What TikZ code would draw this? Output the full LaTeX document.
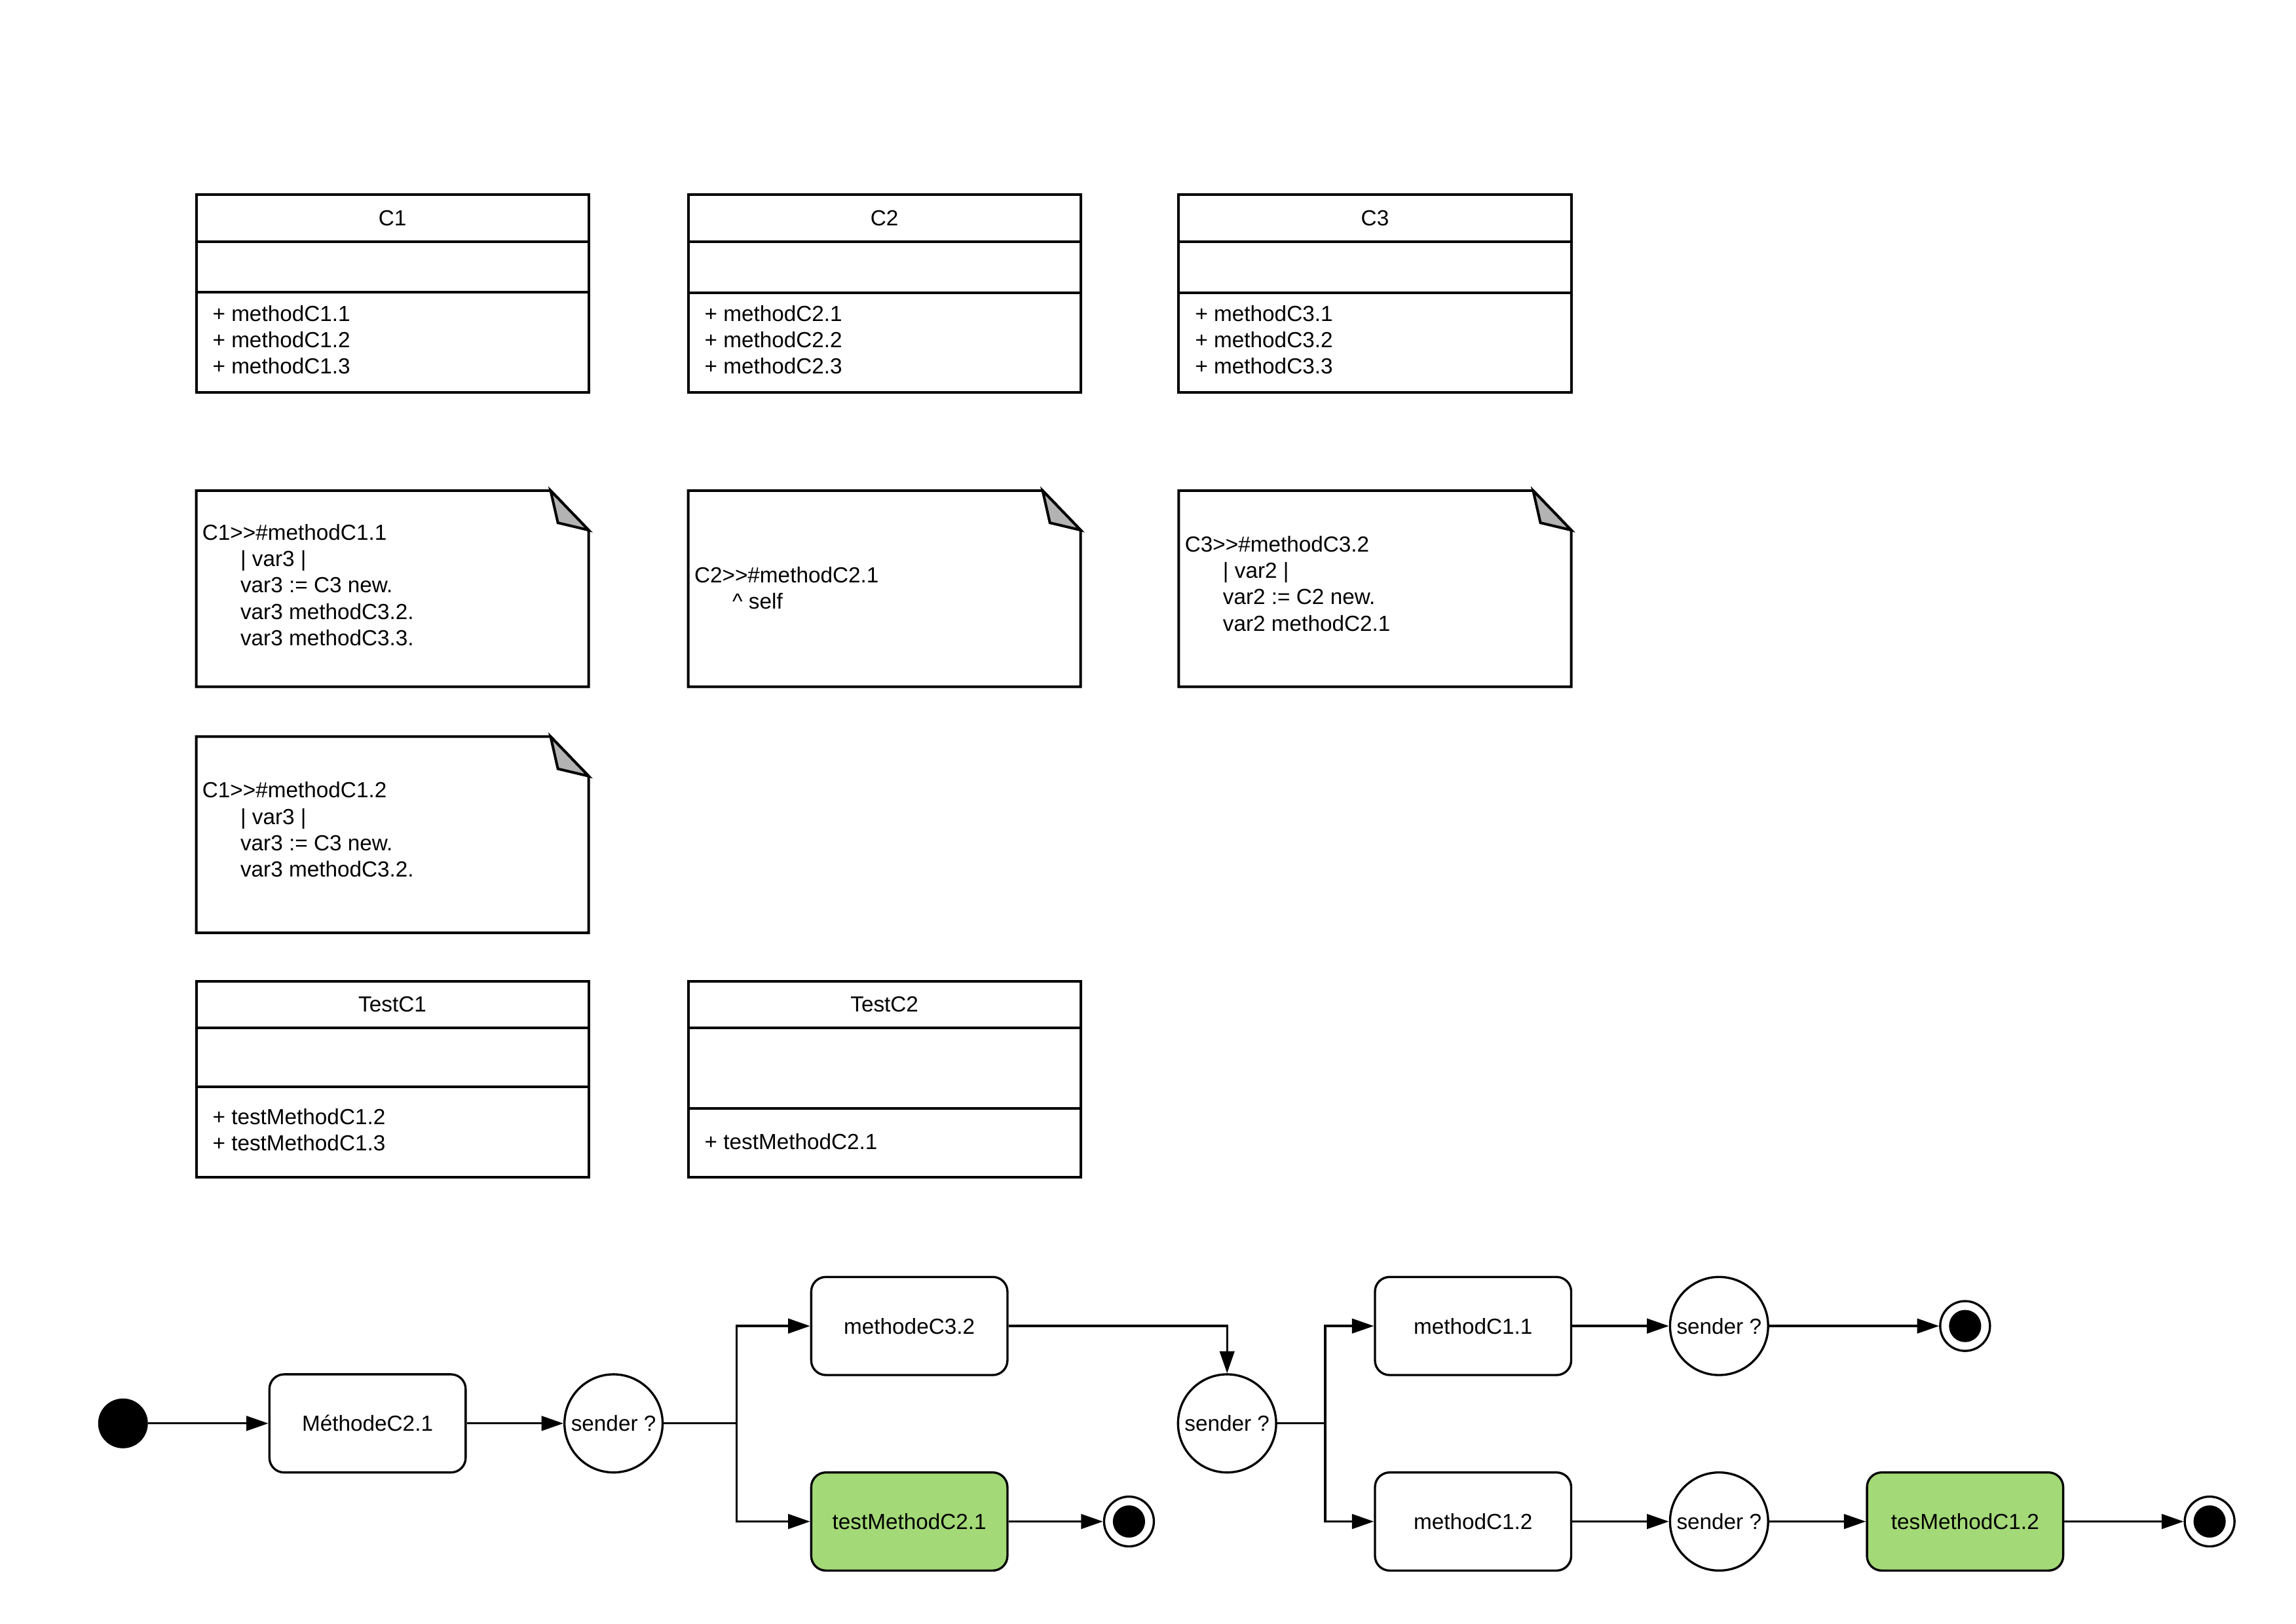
\documentclass[tikz,border=0pt]{standalone}
\usepackage{fontspec}
\setmainfont{Liberation Sans}
\usetikzlibrary{arrows.meta}
\definecolor{greenfill}{RGB}{163,217,119}
\definecolor{foldgray}{RGB}{179,179,179}
\tikzset{
  lbl/.style={inner sep=0pt, font=\fontsize{14.9pt}{18pt}\selectfont, align=left},
  boxline/.style={line width=1.8pt, line join=miter},
  statebox/.style={draw, line width=1.5pt, rounded corners=10pt, minimum width=134pt, minimum height=67pt, inner sep=0pt, fill=white, font=\fontsize{14.9pt}{18pt}\selectfont},
  decision/.style={draw, circle, line width=1.5pt, minimum size=67pt, inner sep=0pt, fill=white, font=\fontsize{14.9pt}{18pt}\selectfont},
  initstate/.style={circle, fill=black, minimum size=34pt, inner sep=0pt},
  finalstate/.style={circle, draw, line width=1.5pt, minimum size=34pt, inner sep=0pt, fill=white,
    path picture={\fill[black] (path picture bounding box.center) circle[radius=11pt];}},
  flow/.style={line width=1.5pt, -{Triangle[length=15pt,width=10pt]}},
  link/.style={line width=1.5pt},
}
\newcommand\umlclass[9]{%
  \draw[boxline] (#2,#3) rectangle (#2+268,#6);
  \draw[boxline] (#2,#4) -- (#2+268,#4);
  \draw[boxline] (#2,#5) -- (#2+268,#5);
  \node[lbl] (#1-title) at (#2+134,{(#3+#4)/2}) {#7};
  \node[lbl, anchor=west] (#1-ops) at (#2+11,#9) {#8};
}
\newcommand\umlnote[5]{%
  \draw[boxline] (#2,#3) -- (#2+242,#3) -- (#2+268,#3+27) -- (#2+268,#3+134) -- (#2,#3+134) -- cycle;
  \filldraw[boxline, fill=foldgray] (#2+242,#3) -- (#2+247,#3+22) -- (#2+268,#3+27) -- cycle;
  \node[lbl, anchor=west] (#1) at (#2+4,#5) {#4};
}
\newcommand\ind{\hspace*{26pt}}
\newcommand\gtgt{>{}>}
\begin{document}
\begin{tikzpicture}[x=1pt,y=-1pt]
\useasboundingbox (0,0) rectangle (1568,1109);
\fill[white] (0,0) rectangle (1568,1109);

% classes
\umlclass{C1}{134}{133}{165}{199.5}{268}{C1}{+ methodC1.1\\+ methodC1.2\\+ methodC1.3}{232}
\umlclass{C2}{470}{133}{165}{200}{268}{C2}{+ methodC2.1\\+ methodC2.2\\+ methodC2.3}{232}
\umlclass{C3}{805}{133}{165}{200}{268}{C3}{+ methodC3.1\\+ methodC3.2\\+ methodC3.3}{232}

% notes
\umlnote{n11}{134}{335}{C1\gtgt\#methodC1.1\\\ind| var3 |\\\ind var3 := C3 new.\\\ind var3 methodC3.2.\\\ind var3 methodC3.3.}{399.5}
\umlnote{n21}{470}{335}{C2\gtgt\#methodC2.1\\\ind \^{} self}{401.5}
\umlnote{n32}{805}{335}{C3\gtgt\#methodC3.2\\\ind| var2 |\\\ind var2 := C2 new.\\\ind var2 methodC2.1}{398.5}
\umlnote{n12}{134}{503}{C1\gtgt\#methodC1.2\\\ind| var3 |\\\ind var3 := C3 new.\\\ind var3 methodC3.2.}{566.5}

% test classes
\umlclass{T1}{134}{670}{702}{742}{804}{TestC1}{+ testMethodC1.2\\+ testMethodC1.3}{771.5}
\umlclass{T2}{470}{670}{702}{757}{804}{TestC2}{+ testMethodC2.1}{779.5}

% activity flow
\node[initstate] (init) at (84,972) {};
\node[statebox] (m21) at (251,972) {MéthodeC2.1};
\node[decision] (s1) at (419,972) {sender ?};
\coordinate (b1) at (503,972);
\node[statebox] (m32) at (621,905.5) {methodeC3.2};
\node[statebox, fill=greenfill] (t21) at (621,1039) {testMethodC2.1};
\node[finalstate] (f1) at (771,1039) {};
\node[decision] (s2) at (838,972) {sender ?};
\coordinate (b2) at (905,972);
\node[statebox] (m11) at (1006,905.5) {methodC1.1};
\node[statebox] (m12) at (1006,1039) {methodC1.2};
\node[decision] (s3) at (1174,905.5) {sender ?};
\node[decision] (s4) at (1174,1039) {sender ?};
\node[finalstate] (f2) at (1342,905.5) {};
\node[statebox, fill=greenfill] (tm12) at (1342,1039) {tesMethodC1.2};
\node[finalstate] (f3) at (1509,1039) {};

\draw[flow] (init) -- (m21);
\draw[flow] (m21) -- (s1);
\draw[link] (s1.east) -- (b1);
\draw[flow] (b1) |- (m32.west);
\draw[flow] (b1) |- (t21.west);
\draw[flow] (m32.east) -| (s2.north);
\draw[flow] (t21) -- (f1);
\draw[link] (s2.east) -- (b2);
\draw[flow] (b2) |- (m11.west);
\draw[flow] (b2) |- (m12.west);
\draw[flow] (m11) -- (s3);
\draw[flow] (s3) -- (f2);
\draw[flow] (m12) -- (s4);
\draw[flow] (s4) -- (tm12);
\draw[flow] (tm12) -- (f3);
\end{tikzpicture}
\end{document}
